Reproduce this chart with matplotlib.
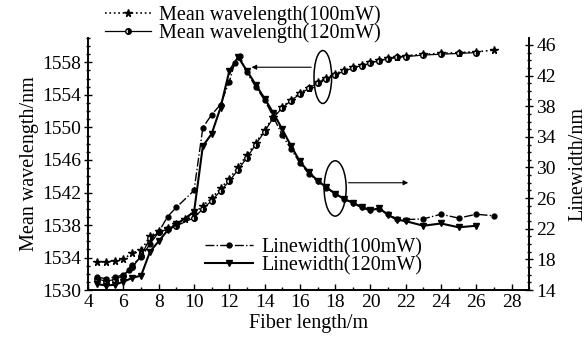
import matplotlib
matplotlib.use("Agg")
import matplotlib.pyplot as plt
from matplotlib.patches import Ellipse
from matplotlib.ticker import MultipleLocator

plt.rcParams['font.family'] = ['Liberation Serif', 'DejaVu Serif']

# mean wavelength, 100 mW (stars, dotted)
x_wl100 = [4.5, 5, 5.5, 6, 6.5, 7, 7.5, 8, 8.5, 9, 9.5, 10, 10.5, 11, 11.5, 12, 12.5, 13, 13.5, 14,
           14.5, 15, 15.5, 16, 16.5, 17, 17.5, 18, 18.5, 19, 19.5, 20, 20.5, 21, 21.5, 22, 23, 24, 25, 26, 27]
y_wl100 = [1533.4, 1533.5, 1533.6, 1533.8, 1534.6, 1534.9, 1536.6, 1537.3, 1537.7, 1538.1, 1538.7, 1539.4,
           1540.4, 1541.3, 1542.5, 1543.7, 1545.1, 1546.6, 1548.1, 1549.7, 1551.3, 1552.5, 1553.4, 1554.2,
           1554.9, 1555.6, 1556.1, 1556.6, 1557.0, 1557.4, 1557.7, 1558.0, 1558.3, 1558.5, 1558.7, 1558.8,
           1559.0, 1559.1, 1559.2, 1559.3, 1559.5]

# mean wavelength, 120 mW
x_wl120 = [4.5, 5, 5.5, 6, 6.5, 7, 7.5, 8, 8.5, 9, 10, 10.5, 11, 11.5, 12, 12.5, 13, 13.5, 14, 14.5,
           15, 15.5, 16, 16.5, 17, 17.5, 18, 18.5, 19, 19.5, 20, 20.5, 21, 21.5, 22, 23, 24, 25, 26]
y_wl120 = [1531.4, 1531.1, 1531.3, 1531.8, 1532.8, 1534.2, 1536.4, 1537.1, 1537.5, 1537.9, 1538.9, 1540.0,
           1541.0, 1542.2, 1543.4, 1544.8, 1546.3, 1547.9, 1549.5, 1551.2, 1552.4, 1553.3, 1554.1, 1554.8,
           1555.5, 1556.0, 1556.5, 1556.9, 1557.3, 1557.6, 1557.9, 1558.2, 1558.4, 1558.6, 1558.7, 1558.9,
           1559.0, 1559.1, 1559.2]

# linewidth, 100 mW (dots, dash-dot)
x_lw100 = [4.5, 5, 5.5, 6, 6.3, 6.5, 7, 7.5, 8, 8.5, 9, 10, 10.5, 11, 11.5, 12, 12.3, 12.6, 13, 13.5, 14,
           14.5, 15, 15.5, 16, 16.5, 17, 17.5, 18, 18.5, 19, 19.5, 20, 20.5, 21, 21.5, 22, 23, 24, 25, 26, 27]
y_lw100 = [15.7, 15.5, 15.7, 16.0, 16.6, 17.3, 18.3, 20.0, 21.6, 23.6, 24.8, 27.0, 35.2, 36.9, 38.2, 41.2,
           43.6, 44.5, 42.4, 40.5, 38.8, 36.6, 34.2, 32.4, 30.6, 29.2, 28.2, 27.3, 26.6, 25.9, 25.4, 24.9,
           24.5, 24.6, 23.9, 23.3, 23.2, 23.3, 23.9, 23.4, 23.9, 23.7]

# linewidth, 120 mW (triangles, solid)
x_lw120 = [4.5, 5, 5.5, 6, 6.5, 7, 7.5, 8, 8.5, 9, 10, 10.5, 11, 11.5, 12, 12.5, 13, 13.5, 14, 14.5,
           15, 15.5, 16, 16.5, 17, 17.5, 18, 18.5, 19, 19.5, 20, 20.5, 21, 21.5, 22, 23, 24, 25, 26]
y_lw120 = [14.8, 14.6, 14.7, 15.1, 15.6, 15.9, 19.0, 20.4, 21.8, 22.6, 24.2, 32.8, 34.4, 37.8, 42.6, 44.4,
           42.6, 40.8, 39.0, 37.1, 35.0, 32.8, 30.8, 29.4, 28.3, 27.4, 26.6, 25.9, 25.4, 24.8, 24.4, 24.7,
           23.8, 23.2, 23.0, 22.4, 22.7, 22.2, 22.4]

fig = plt.figure(figsize=(5.88, 3.45), dpi=100)
ax = fig.add_axes([0.150, 0.159, 0.750, 0.731])
ax2 = ax.twinx()

l1, = ax.plot(x_wl100, y_wl100, ls=':', lw=1.2, color='k', marker='*', ms=5.5,
              label='Mean wavelength(100mW)')
l2, = ax.plot(x_wl120, y_wl120, ls='-', lw=0.9, color='k', marker='o', ms=4, fillstyle='right',
              markerfacecoloralt='white', label='Mean wavelength(120mW)')
l3, = ax2.plot(x_lw100, y_lw100, ls='-.', lw=1.0, color='k', marker='o', ms=3.5,
               label='Linewidth(100mW)')
l4, = ax2.plot(x_lw120, y_lw120, ls='-', lw=1.5, color='k', marker='v', ms=5,
               label='Linewidth(120mW)')

ax.set_xlim(4, 29)
ax.set_ylim(1530, 1561)
ax2.set_ylim(14, 46.9)

ax.xaxis.set_major_locator(MultipleLocator(2))
ax.xaxis.set_minor_locator(MultipleLocator(1))
ax.yaxis.set_major_locator(MultipleLocator(4, offset=2))
ax.yaxis.set_minor_locator(MultipleLocator(1))
ax2.yaxis.set_major_locator(MultipleLocator(4, offset=2))
ax2.yaxis.set_minor_locator(MultipleLocator(1))

for a in (ax, ax2):
    a.spines['top'].set_visible(False)
    for s in a.spines.values():
        s.set_linewidth(1.2)
ax.tick_params(axis='x', direction='in', labelsize=14, width=1, length=4, pad=3)
ax.tick_params(axis='x', which='minor', direction='in', width=1, length=2.5)
ax.tick_params(axis='y', direction='inout', labelsize=14, width=1, length=6, pad=2)
ax.tick_params(axis='y', which='minor', direction='inout', width=1, length=3.5)
ax2.tick_params(axis='y', direction='inout', labelsize=14, width=1, length=6, pad=2)
ax2.tick_params(axis='y', which='minor', direction='inout', width=1, length=3.5)

ax.set_xlabel('Fiber length/m', fontsize=14.5, labelpad=2)
ax.set_ylabel('Mean wavelength/nm', fontsize=14.5, labelpad=2)
ax2.set_ylabel('Linewidth/nm', fontsize=14.5, labelpad=9)

# ellipses marking which curve belongs to which axis
ax.add_patch(Ellipse((17.3, 1556.2), 1.0, 6.5, fill=False, lw=1.1, color='k'))
ax.add_patch(Ellipse((18.0, 1542.5), 1.25, 6.8, fill=False, lw=1.1, color='k'))
ax.annotate('', xy=(13.1, 1557.4), xytext=(16.8, 1557.4),
            arrowprops=dict(arrowstyle='-|>', lw=0.8, color='k', mutation_scale=7))
ax.annotate('', xy=(22.3, 1543.2), xytext=(18.6, 1543.2),
            arrowprops=dict(arrowstyle='-|>', lw=0.8, color='k', mutation_scale=7))

fig.legend(handles=[l1, l2], loc='upper left', bbox_to_anchor=(105 / 588, 1 - 5 / 345),
           frameon=False, fontsize=14.5, handlelength=2.3, handletextpad=0.4,
           labelspacing=-0.05, borderpad=0, borderaxespad=0)
fig.legend(handles=[l3, l4], loc='upper left', bbox_to_anchor=(205 / 588, 1 - 238 / 345),
           frameon=False, fontsize=14.5, handlelength=2.4, handletextpad=0.4,
           labelspacing=-0.05, borderpad=0, borderaxespad=0)

fig.savefig('out.png', dpi=100)
